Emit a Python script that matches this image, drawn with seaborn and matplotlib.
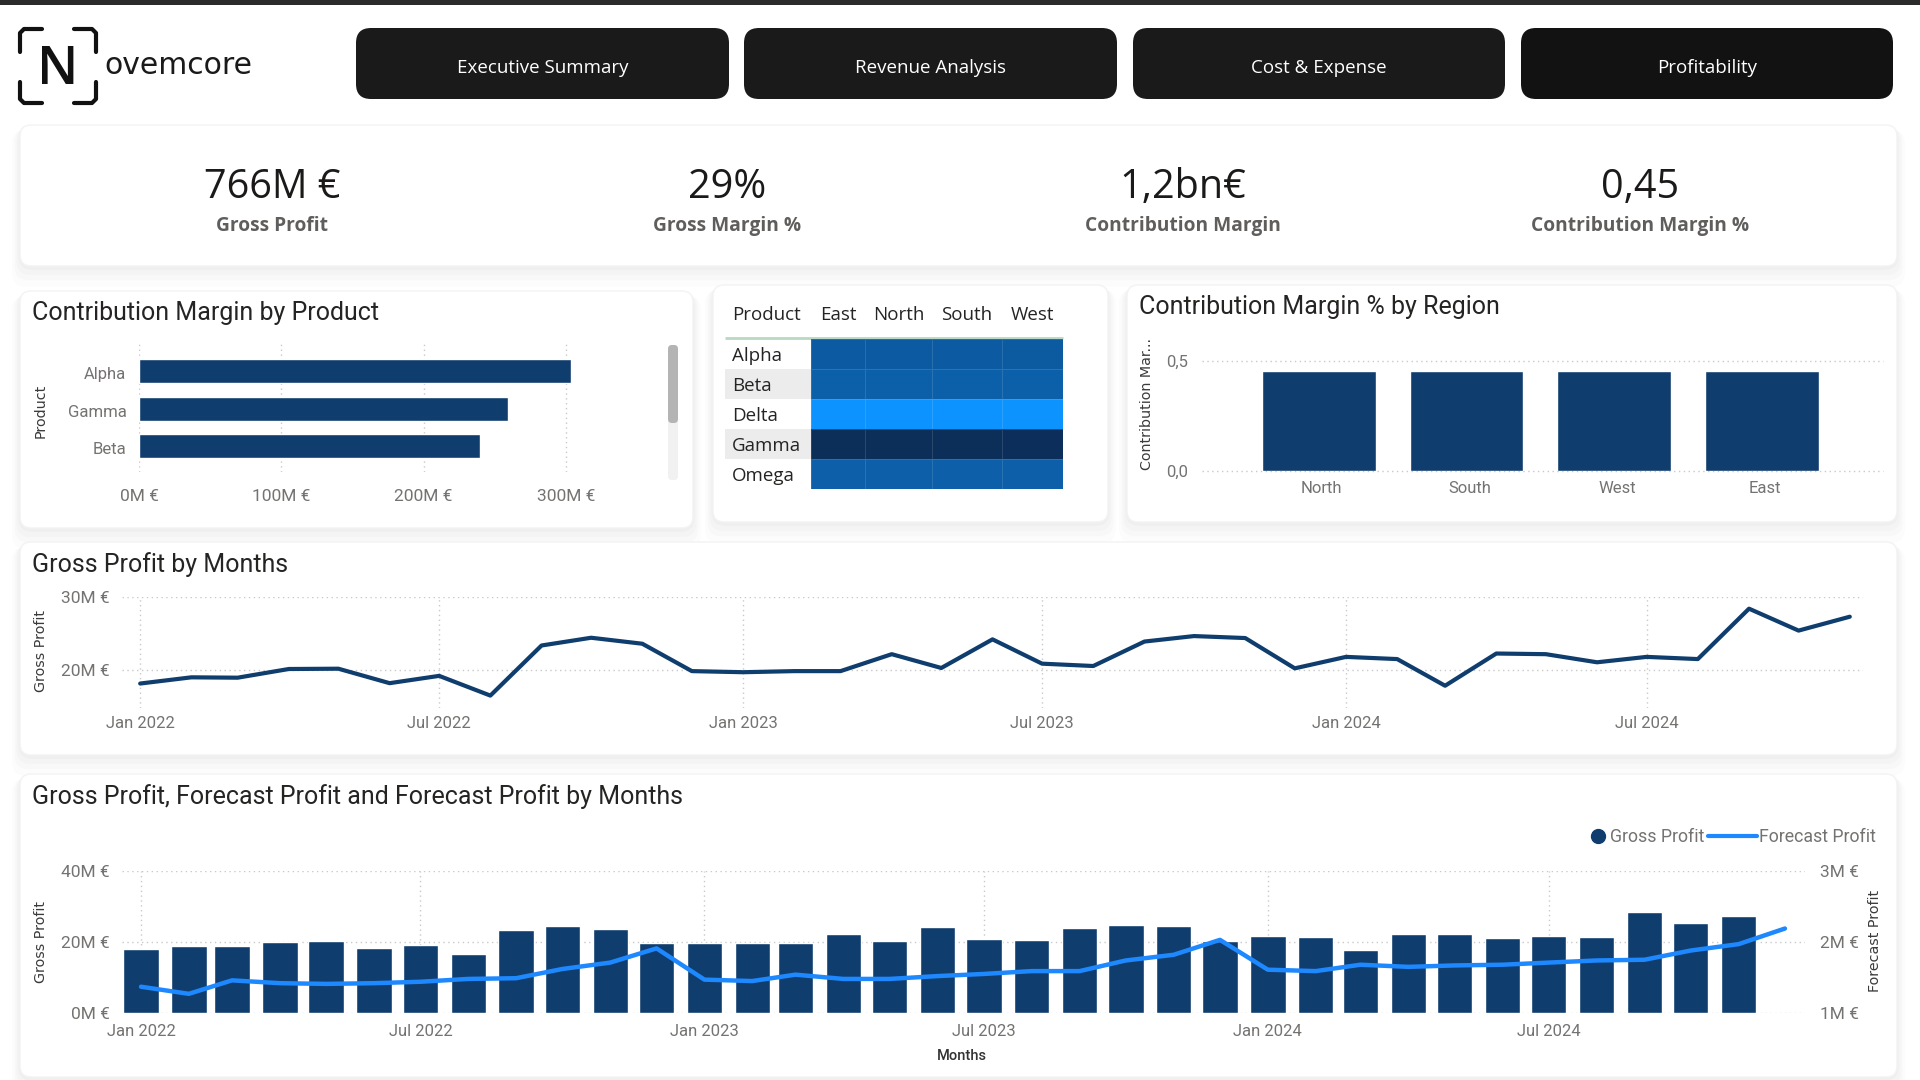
import numpy as np
import pandas as pd
import matplotlib
matplotlib.use("Agg")
import matplotlib.pyplot as plt
import matplotlib.dates as mdates
from matplotlib.colors import LinearSegmentedColormap
from matplotlib.lines import Line2D
from matplotlib.patches import FancyBboxPatch, Rectangle
from matplotlib.ticker import FuncFormatter
from matplotlib.transforms import ScaledTranslation
import seaborn as sns

# data
nav_labels = ["Executive Summary", "Revenue Analysis", "Cost & Expense", "Profitability"]
kpi_values = ["766M €", "29%", "1,2bn€", "0,45"]
kpi_labels = ["Gross Profit", "Gross Margin %", "Contribution Margin", "Contribution Margin %"]

bar_products = ["Alpha", "Gamma", "Beta"]
bar_margin = [303.5, 259, 239.6]

matrix_products = ["Alpha", "Beta", "Delta", "Gamma", "Omega"]
matrix_east = [0.414, 0.402, 0.300, 0.500, 0.404]
matrix_north = [0.414, 0.403, 0.300, 0.500, 0.404]
matrix_south = [0.414, 0.402, 0.300, 0.500, 0.404]
matrix_west = [0.413, 0.402, 0.301, 0.499, 0.404]

regions = ["North", "South", "West", "East"]
region_margin = [0.455, 0.455, 0.455, 0.455]

gross_profit = [18.15, 19.0, 18.95, 20.14, 20.18, 18.2, 19.2, 16.5, 23.36, 24.42, 23.6, 19.85,
                19.7, 19.85, 19.85, 22.17, 20.28, 24.2, 20.87, 20.55, 23.9, 24.65, 24.38, 20.23,
                21.8, 21.5, 17.85, 22.26, 22.17, 21.06, 21.8, 21.5, 28.4, 25.4, 27.3]
forecast_profit = [1.37, 1.27, 1.46, 1.42, 1.41, 1.42, 1.44, 1.48, 1.49, 1.62, 1.71, 1.91,
                   1.47, 1.45, 1.54, 1.48, 1.48, 1.52, 1.55, 1.59, 1.59, 1.74, 1.82, 2.03,
                   1.61, 1.59, 1.68, 1.65, 1.67, 1.68, 1.71, 1.74, 1.75, 1.88, 1.97, 2.19]
gross_months = pd.date_range("2022-01-01", periods=len(gross_profit), freq="MS")
forecast_months = pd.date_range("2022-01-01", periods=len(forecast_profit), freq="MS")

W, H = 1920, 1080
NAVY = "#0f3d6e"
BLUE = "#1e88ff"
TICK = "#757371"
GRID = "#c9c9c9"
TITLE = "#252423"

sns.set_theme(style="white")
plt.rcParams["font.family"] = ["Roboto", "DejaVu Sans"]
plt.rcParams["axes.unicode_minus"] = False

fig = plt.figure(figsize=(W / 100, H / 100), dpi=100, facecolor="white")

# pixel coordinate layer for the page furniture
bg = fig.add_axes([0, 0, 1, 1], zorder=0)
bg.set_xlim(0, W)
bg.set_ylim(H, 0)
bg.axis("off")


def card(x0, y0, x1, y1):
    for grow, alpha in [(16, 0.012), (11, 0.014), (7, 0.016), (3, 0.018)]:
        bg.add_patch(FancyBboxPatch((x0 - grow * 0.5, y0 + grow * 0.3), x1 - x0 + grow, y1 - y0 + grow,
                                    boxstyle="round,pad=0,rounding_size=14", fc="black", ec="none", alpha=alpha))
    bg.add_patch(FancyBboxPatch((x0, y0), x1 - x0, y1 - y0, boxstyle="round,pad=0,rounding_size=11",
                                fc="white", ec="#f3f3f3", lw=1))


def px_axes(x0, y0, x1, y1):
    ax = fig.add_axes([x0 / W, 1 - y1 / H, (x1 - x0) / W, (y1 - y0) / H], zorder=2)
    ax.patch.set_alpha(0)
    sns.despine(ax=ax, left=True, bottom=True)
    return ax


def ylabel_at(ax, text, px, py):
    pos = ax.get_position()
    ax.set_ylabel(text, fontfamily="DejaVu Sans", fontsize=10.3, color="#3a3a3a", va="center")
    ax.yaxis.set_label_coords((px / W - pos.x0) / pos.width, (1 - py / H - pos.y0) / pos.height)


def date_axis(ax):
    ax.xaxis.set_major_locator(mdates.MonthLocator(bymonth=(1, 7)))
    ax.xaxis.set_major_formatter(mdates.DateFormatter("%b %Y"))


def dotted(ax, axis):
    ax.grid(True, axis=axis, color=GRID, lw=1, ls=(0, (1, 2.5)))
    ax.set_axisbelow(True)


def nudge(labels, dx, dy):
    for lab in labels:
        lab.set_transform(lab.get_transform() + ScaledTranslation(dx / 100, -dy / 100, fig.dpi_scale_trans))


# top strip
bg.add_patch(Rectangle((0, 0), W, 5, fc="#2b2b2b", ec="none"))

# logo
for xs, ys in [((42, 24, 20, 20), (29, 29, 33, 52)), ((74, 92, 96, 96), (29, 29, 33, 52)),
               ((42, 24, 20, 20), (103, 103, 99, 82)), ((74, 92, 96, 96), (103, 103, 99, 82))]:
    bg.plot(xs, ys, color="#111111", lw=3, solid_capstyle="round", solid_joinstyle="round")
bg.text(58, 70, "N", fontsize=38, family="Open Sans", weight="semibold", color="#111111", ha="center", va="center")
bg.text(104, 66, "ovemcore", fontsize=21.5, family="DejaVu Sans", color="#1a1a1a", ha="left", va="center")

# navigation buttons
nav_edges = [(356, 729), (744, 1117), (1133, 1505), (1521, 1893)]
for (x0, x1), label, col in zip(nav_edges, nav_labels, ["#1a1a1a", "#1a1a1a", "#1a1a1a", "#121212"]):
    bg.add_patch(FancyBboxPatch((x0, 28), x1 - x0, 71, boxstyle="round,pad=0,rounding_size=15", fc=col, ec="none"))
    bg.text((x0 + x1) / 2, 68, label, fontsize=13.5, family="Open Sans", weight="medium", color="white",
            ha="center", va="center")

# cards
card(20, 125, 1897, 266)
card(20, 291, 693, 528)
card(713, 285, 1108, 522)
card(1127, 285, 1897, 522)
card(20, 542, 1897, 755)
card(20, 774, 1897, 1077)

# KPI row
for cx, value, label in zip([272, 727, 1183, 1640], kpi_values, kpi_labels):
    bg.text(cx, 188, value, fontsize=28.5, family="Open Sans", weight="medium", color="#1b1a19", ha="center", va="center")
    bg.text(cx, 226, label, fontsize=13.8, family="Open Sans", weight="bold", color="#605e5c", ha="center", va="center")

# titles
bg.text(32, 313, "Contribution Margin by Product", fontsize=18, color=TITLE, va="center")
bg.text(1139, 307, "Contribution Margin % by Region", fontsize=18, color=TITLE, va="center")
bg.text(32, 565, "Gross Profit by Months", fontsize=18, color=TITLE, va="center")
bg.text(32, 797, "Gross Profit, Forecast Profit and Forecast Profit by Months", fontsize=18, color=TITLE, va="center")

# contribution margin by product
ax1 = px_axes(139, 343, 620, 472)
sns.barplot(x=bar_margin, y=bar_products, color=NAVY, saturation=1, width=0.64, ax=ax1)
ax1.set_xlim(0, 338)
ax1.set_ylim(2.69, -0.75)
ax1.set_xticks([0, 100, 200, 300])
ax1.xaxis.set_major_formatter(FuncFormatter(lambda v, _: f"{v:.0f}M €"))
ax1.tick_params(axis="x", labelsize=12.5, colors=TICK, pad=12, length=0)
ax1.tick_params(axis="y", labelsize=12, colors=TICK, pad=9, length=0)
dotted(ax1, "x")
ylabel_at(ax1, "Product", 41, 411)
nudge(ax1.get_yticklabels(), 0, 2)
bg.add_patch(FancyBboxPatch((668, 345), 10, 135, boxstyle="round,pad=0,rounding_size=4", fc="#f1f1f1", ec="none"))
bg.add_patch(FancyBboxPatch((668, 345), 10, 78, boxstyle="round,pad=0,rounding_size=4", fc="#b4b4b4", ec="none"))

# product by region matrix
matrix_cmap = LinearSegmentedColormap.from_list("matrix", ["#0d93ff", "#0b2f59"])
col_edges = [811, 865, 932, 1002, 1063]
bg.plot([725, 1063], [338, 338], color="#b9d8c2", lw=2, solid_capstyle="butt")
for row in (1, 3):
    bg.add_patch(Rectangle((725, 339 + row * 30), 86, 30, fc="#ececec", ec="none"))
for i, (name, vals) in enumerate(zip(["East", "North", "South", "West"],
                                     [matrix_east, matrix_north, matrix_south, matrix_west])):
    hax = px_axes(col_edges[i], 339, col_edges[i + 1], 489)
    table = pd.DataFrame({name: vals}, index=matrix_products)
    sns.heatmap(table, cmap=matrix_cmap, vmin=0.30, vmax=0.50, cbar=False,
                linewidths=0.6, linecolor=(1, 1, 1, 0.12), ax=hax)
    hax.xaxis.tick_top()
    hax.tick_params(axis="x", labelsize=13.5, colors="#252423", pad=11, length=0, labelrotation=0)
    for lab in hax.get_xticklabels():
        lab.set_fontfamily("Open Sans")
    if i == 0:
        hax.tick_params(axis="y", labelsize=13.5, colors="#252423", pad=57, length=0, labelrotation=0)
        for lab in hax.get_yticklabels():
            lab.set_ha("left")
            lab.set_fontfamily("Open Sans")
        nudge(hax.get_yticklabels(), 0, 2)
    else:
        hax.set_yticks([])
    hax.set_ylabel("")
bg.text(732, 315, "Product", fontsize=13.5, family="Open Sans", color="#252423", va="center")

# contribution margin % by region
ax3 = px_axes(1202, 361, 1883, 471)
sns.barplot(x=regions, y=region_margin, color=NAVY, saturation=1, width=0.77, ax=ax3)
ax3.set_xlim(-0.79, 3.82)
ax3.set_ylim(0, 0.5)
ax3.set_yticks([0, 0.5])
ax3.set_yticklabels(["0,0", "0,5"])
ax3.tick_params(axis="both", labelsize=12, colors=TICK, length=0)
ax3.tick_params(axis="x", pad=7)
ax3.tick_params(axis="y", pad=10)
dotted(ax3, "y")
ax3.spines["bottom"].set_visible(False)
for line in ax3.get_ygridlines():
    line.set_clip_on(False)
ylabel_at(ax3, "Contribution Mar...", 1147, 404)
nudge(ax3.get_xticklabels(), 3, 0)

# gross profit by months
ax4 = px_axes(122, 597, 1863, 708)
sns.lineplot(x=gross_months, y=gross_profit, color=NAVY, lw=3, ax=ax4)
ax4.set_xlim(gross_months[0] - pd.Timedelta(days=11), gross_months[0] + pd.Timedelta(days=1043))
ax4.set_ylim(14.8, 30)
ax4.set_yticks([20, 30])
ax4.yaxis.set_major_formatter(FuncFormatter(lambda v, _: f"{v:.0f}M €"))
date_axis(ax4)
ax4.set_xlabel("")
ax4.tick_params(axis="both", labelsize=12, colors=TICK, length=0)
ax4.tick_params(axis="x", pad=6)
ax4.tick_params(axis="y", labelsize=12.5, pad=9)
dotted(ax4, "both")
ylabel_at(ax4, "Gross Profit", 41, 651)

# gross and forecast profit by months
ax5 = px_axes(122, 871, 1805, 1013)
gross_num = mdates.date2num(gross_months)
forecast_num = mdates.date2num(forecast_months)
sns.barplot(x=gross_num, y=gross_profit, native_scale=True, color=NAVY, saturation=1, width=0.82, ax=ax5)
ax5.set_xlim(gross_num[0] - 12.3, gross_num[0] + 1078)
ax5.set_ylim(0, 40)
ax5.set_yticks([0, 20, 40])
ax5.yaxis.set_major_formatter(FuncFormatter(lambda v, _: f"{v:.0f}M €"))
date_axis(ax5)
ax5.tick_params(axis="both", labelsize=12, colors=TICK, length=0)
ax5.tick_params(axis="x", pad=8)
ax5.tick_params(axis="y", labelsize=12.5, pad=9)
dotted(ax5, "both")
ylabel_at(ax5, "Gross Profit", 41, 942)
ax5.set_xlabel("Months", fontsize=10.5, color="#333333", weight="medium")
ax5.xaxis.set_label_coords((962 - 122) / (1805 - 122), -0.255)

ax5b = ax5.twinx()
ax5b.patch.set_alpha(0)
sns.lineplot(x=forecast_num, y=forecast_profit, color=BLUE, lw=3.2, ax=ax5b)
sns.despine(ax=ax5b, left=True, bottom=True, right=True)
ax5b.set_ylim(1, 3)
ax5b.set_yticks([1, 2, 3])
ax5b.yaxis.set_major_formatter(FuncFormatter(lambda v, _: f"{v:.0f}M €"))
ax5b.tick_params(axis="y", labelsize=12.5, colors=TICK, length=0, pad=11)
ax5b.grid(False)
ylabel_at(ax5b, "Forecast Profit", 1875, 941)

leg_a = fig.legend(handles=[Line2D([], [], color=NAVY, marker="o", ls="none", ms=10)], labels=["Gross Profit"],
                   loc="center right", bbox_to_anchor=(1704 / W, 1 - 837 / H), frameon=False,
                   fontsize=12.8, labelcolor=TICK, handlelength=1, handletextpad=0.15, borderpad=0, borderaxespad=0)
leg_b = fig.legend(handles=[Line2D([], [], color=BLUE, lw=3)], labels=["Forecast Profit"],
                   loc="center right", bbox_to_anchor=(1876 / W, 1 - 837 / H), frameon=False,
                   fontsize=12.8, labelcolor=TICK, handlelength=2.8, handletextpad=0.1, borderpad=0, borderaxespad=0)

fig.savefig("out.png", dpi=100)
